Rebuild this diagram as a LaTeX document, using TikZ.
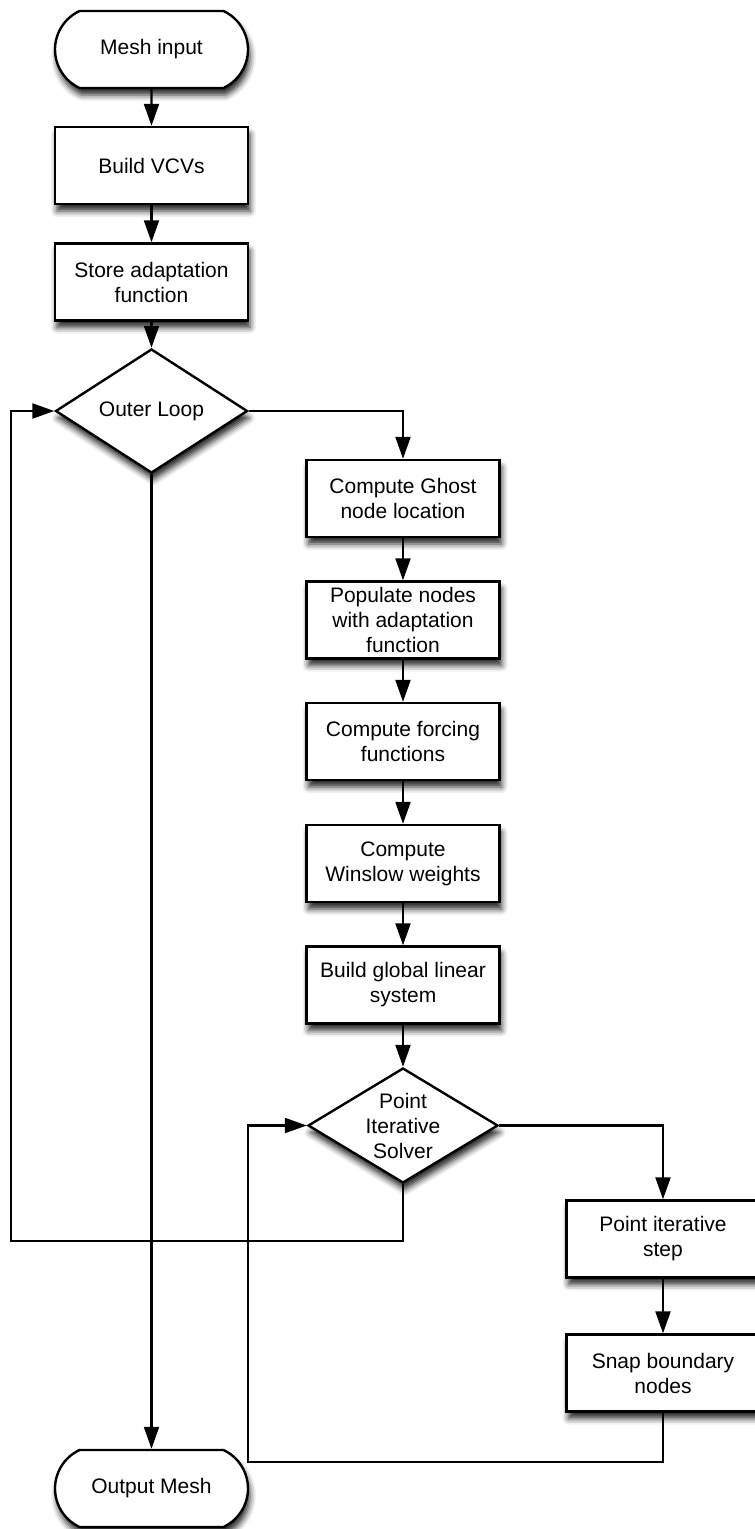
\documentclass[tikz,border=0pt]{standalone}
\usepackage{fontspec}
\setmainfont{Liberation Sans}
\usetikzlibrary{arrows.meta,shapes.geometric,shapes.misc,shadows.blur}
\tikzset{
  base/.style={draw=black, line width=2.4pt, fill=white, align=center,
    font=\fontsize{21}{25}\selectfont, inner sep=0pt,
    blur shadow={shadow xshift=2pt, shadow yshift=-7pt, shadow blur radius=6pt, shadow opacity=85}},
  procbox/.style={base, rectangle, minimum width=193pt, minimum height=77pt},
  termbox/.style={base, rounded rectangle, rounded rectangle arc length=130, minimum width=193pt, minimum height=77pt},
  decbox/.style={base, diamond, minimum width=192pt, minimum height=102pt},
  conn/.style={line width=2.2pt, -{Triangle[length=22pt,width=15pt]}},
}
\begin{document}
\begin{tikzpicture}[x=1pt,y=-1pt]
\useasboundingbox (0,0) rectangle (755,1529);
\node[termbox] (mesh) at (151.5,49.5) {Mesh input};
\node[procbox] (vcv) at (151.5,165.5) {Build VCVs};
\node[procbox] (store) at (151.5,282) {Store adaptation\\function};
\node[decbox] (outer) at (151.5,411) {Outer Loop};
\node[procbox] (ghost) at (403,498.5) {Compute Ghost\\node location};
\node[procbox] (pop) at (403,620) {Populate nodes\\with adaptation\\function};
\node[procbox] (force) at (403,741.5) {Compute forcing\\functions};
\node[procbox] (wins) at (403,863.5) {Compute\\Winslow weights};
\node[procbox] (build) at (403,985) {Build global linear\\system};
\node[decbox, minimum width=190pt, minimum height=115pt,
  label={[align=center, font=\fontsize{21}{25}\selectfont]center:Point\\Iterative\\Solver}] (solver) at (403,1125.5) {};
\node[procbox] (step) at (663,1239) {Point iterative\\step};
\node[procbox] (snap) at (663,1373) {Snap boundary\\nodes};
\node[termbox] (out) at (151.5,1488.5) {Output Mesh};

\coordinate (ol) at (11,1241);
\coordinate (sl) at (248,1462);

\draw[conn] (mesh) -- (vcv);
\draw[conn] (vcv) -- (store);
\draw[conn] (store) -- (outer);
\draw[conn] (outer.east) -| (ghost.north);
\draw[conn] (ghost) -- (pop);
\draw[conn] (pop) -- (force);
\draw[conn] (force) -- (wins);
\draw[conn] (wins) -- (build);
\draw[conn] (build) -- (solver);
\draw[conn] (solver.east) -| (step.north);
\draw[conn] (step) -- (snap);
\draw[conn] (snap.south) |- (sl) |- (solver.west);
\draw[conn] (solver.south) |- (ol) |- (outer.west);
\draw[conn] (outer.south) -- (out.north);
\end{tikzpicture}
\end{document}
